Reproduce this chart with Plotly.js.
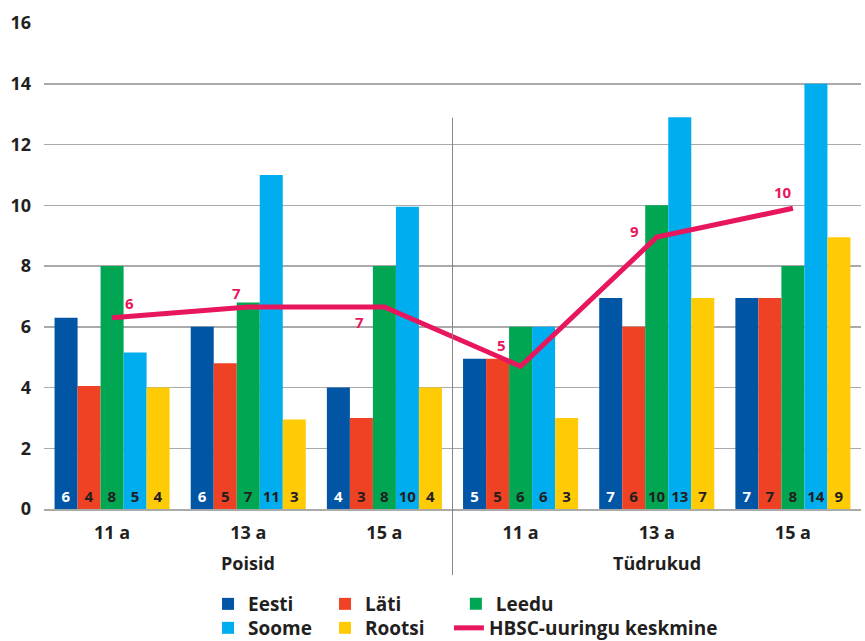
<!DOCTYPE html>
<html>
<head>
<meta charset="utf-8">
<script src="https://cdn.plot.ly/plotly-3.0.1.min.js"></script>
<style>html,body{margin:0;padding:0;background:#fff;}#chart{width:865px;height:641px;}</style>
</head>
<body>
<div id="chart"></div>
<script>
// Data
const genders = ['Poisid', 'Tüdrukud'];
const ages = ['11 a', '13 a', '15 a'];
const eesti  = [6.3, 6.0, 4.0, 4.95, 6.95, 6.95];
const lati   = [4.05, 4.8, 3.0, 4.95, 6.0, 6.95];
const leedu  = [8.0, 6.8, 8.0, 6.0, 10.0, 8.0];
const soome  = [5.15, 11.0, 9.95, 6.0, 12.9, 14.0];
const rootsi = [4.0, 2.95, 4.0, 3.0, 6.95, 8.95];
const eestiLbl  = [6, 6, 4, 5, 7, 7];
const latiLbl   = [4, 5, 3, 5, 6, 7];
const leeduLbl  = [8, 7, 8, 6, 10, 8];
const soomeLbl  = [5, 11, 10, 6, 13, 14];
const rootsiLbl = [4, 3, 4, 3, 7, 9];
const hbsc      = [6.3, 6.65, 6.65, 4.7, 8.95, 9.9];
const hbscLbl   = [6, 7, 7, 5, 9, 10];

// category positions built from the gender x age structure
const xPos = [], xText = [], genderCenters = [];
genders.forEach((g, gi) => {
  ages.forEach((a, ai) => { xPos.push(gi * ages.length + ai); xText.push(a); });
  genderCenters.push(gi * ages.length + (ages.length - 1) / 2);
});

const FONT = '"Open Sans", "DejaVu Sans", sans-serif';
const DARK = '#231f20';

function barTrace(name, y, lbl, color, txtColor, legend) {
  return {
    type: 'bar', name: name, x: xPos, y: y,
    text: lbl.map(String), textposition: 'inside', insidetextanchor: 'start',
    textangle: 0, constraintext: 'none',
    textfont: {family: FONT, size: 15, color: txtColor, weight: 'bold'},
    marker: {color: color, line: {width: 0}},
    hoverinfo: 'skip', legend: legend
  };
}

const traces = [
  barTrace('Eesti', eesti, eestiLbl, '#0055a5', '#ffffff', 'legend'),
  barTrace('Läti', lati, latiLbl, '#ef4123', DARK, 'legend'),
  barTrace('Leedu', leedu, leeduLbl, '#00a651', DARK, 'legend3'),
  barTrace('Soome', soome, soomeLbl, '#00aeef', DARK, 'legend2'),
  barTrace('Rootsi', rootsi, rootsiLbl, '#ffcb05', DARK, 'legend2'),
  {
    type: 'scatter', mode: 'lines', name: 'HBSC-uuringu keskmine',
    x: xPos, y: hbsc, line: {color: '#e8175d', width: 5},
    hoverinfo: 'skip', legend: 'legend4'
  }
];

const offsets = [[17, -15], [-12, -14], [-25, 15], [-19, -21], [-22, -6], [-10, -16]];
const annotations = hbsc.map((v, i) => ({
  x: xPos[i], y: v, xref: 'x', yref: 'y',
  text: String(hbscLbl[i]), showarrow: true, arrowcolor: 'rgba(0,0,0,0)',
  ax: offsets[i][0], ay: offsets[i][1],
  font: {family: FONT, size: 15, color: '#e8175d', weight: 'bold'}
}));
genders.forEach((g, gi) => annotations.push({
  x: genderCenters[gi], y: -0.111, xref: 'x', yref: 'paper',
  text: g, showarrow: false, xanchor: 'center', yanchor: 'middle',
  font: {family: FONT, size: 18, color: DARK, weight: 'bold'}
}));

const legendCommon = {
  orientation: 'h', xref: 'container', yref: 'container', xanchor: 'left', yanchor: 'middle',
  entrywidth: 72, entrywidthmode: 'pixels', itemclick: false, itemdoubleclick: false,
  font: {family: FONT, size: 19, color: DARK, weight: 'bold'},
  bgcolor: 'rgba(0,0,0,0)', borderwidth: 0, traceorder: 'normal', tracegroupgap: 0
};

const layout = {
  width: 865, height: 641,
  margin: {l: 44, r: 4, t: 23, b: 132, autoexpand: false},
  paper_bgcolor: '#ffffff', plot_bgcolor: '#ffffff',
  barmode: 'group', bargap: 0.155, bargroupgap: 0,
  font: {family: FONT, color: DARK},
  xaxis: {
    range: [-0.5, xPos.length - 0.5], tickvals: xPos, ticktext: xText,
    showgrid: false, zeroline: false, showline: true, linecolor: '#aaaaaa', linewidth: 1.5,
    ticks: '', ticklabelstandoff: 7,
    tickfont: {family: FONT, size: 18, color: DARK, weight: 'bold'}
  },
  yaxis: {
    range: [0, 16], dtick: 2, showgrid: true, gridcolor: '#aaaaaa', gridwidth: 1.5,
    zeroline: false, showline: false, ticks: '', ticklabelstandoff: 12,
    tickfont: {family: FONT, size: 18, color: DARK, weight: 'bold'}
  },
  showlegend: true,
  legend:  Object.assign({}, legendCommon, {x: 0.2405, y: 0.0577}),
  legend2: Object.assign({}, legendCommon, {x: 0.2405, y: 0.0203}),
  legend3: Object.assign({}, legendCommon, {x: 0.527, y: 0.0577}),
  legend4: Object.assign({}, legendCommon, {x: 0.519, y: 0.0203, entrywidth: 300}),
  annotations: annotations,
  shapes: [{
    type: 'line', xref: 'x', yref: 'paper', x0: 2.5, x1: 2.5, y0: -0.136, y1: 0.805,
    line: {color: '#888888', width: 1}
  }]
};

Plotly.newPlot('chart', traces, layout, {displayModeBar: false, staticPlot: true});
</script>
</body>
</html>
